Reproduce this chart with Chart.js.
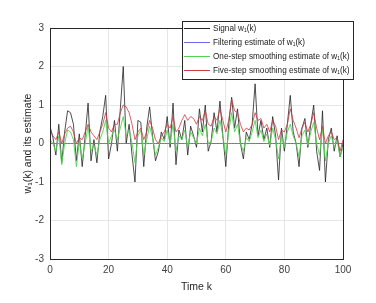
<!DOCTYPE html>
<html>
<head>
<meta charset="utf-8">
<script src="https://cdn.jsdelivr.net/npm/chart.js@4"></script>
<style>
  html, body { margin: 0; padding: 0; background: #fff; }
  canvas { display: block; }
</style>
</head>
<body>
<canvas id="chart" width="376" height="303"></canvas>
<script>
// Data
const timeK = Array.from({ length: 101 }, (_, i) => i);

const signalW1 = [
  0.45, 0.15, -0.3, 0.5, -0.5, 0.3, 0.85, 0.8, 0.5, -0.45,
  0.25, -0.6, 0.2, 1.05, -0.45, 0.1, -0.5, 0.3, 0.7, 1.25,
  -0.4, 0.0, 0.6, -0.2, 0.9, 2.0, 0.0, 0.5, -0.3, -1.0,
  0.6, 0.55, -0.6, 0.4, 0.95, 0.2, -0.45, -0.2, 0.3, 0.1,
  0.7, -0.1, 1.05, -0.55, 0.35, 0.1, 0.6, -0.3, 0.45, 0.2,
  -0.1, 0.9, 0.3, 1.0, -0.2, 0.05, 0.8, 0.3, 1.1, 0.2,
  -0.6, 0.5, 1.2, 0.4, 0.9, 0.0, -0.4, 0.3, 0.1, 0.5,
  1.55, 0.2, 0.6, 0.1, 0.4, -0.1, 0.7, 0.2, -0.95, 0.4,
  -0.2, 0.5, 1.25, 0.3, 0.0, -0.6, 0.4, 0.65, -0.1, 0.5,
  1.0, -0.2, -0.7, 0.85, -1.0, 0.1, 0.4, -0.2, 0.2, -0.35,
  0.0
];

const filteringEst = [
  0, 0, 0, 0, 0, 0, 0, 0, 0, 0,
  0, 0, 0, 0, 0, 0, 0, 0, 0, 0,
  0, 0, 0, 0, 0, 0, 0, 0, 0, 0,
  0, 0, 0, 0, 0, 0, 0, 0, 0, 0,
  0, 0, 0, 0, 0, 0, 0, 0, 0, 0,
  0, 0, 0, 0, 0, 0, 0, 0, 0, 0,
  0, 0, 0, 0, 0, 0, 0, 0, 0, 0,
  0, 0, 0, 0, 0, 0, 0, 0, 0, 0,
  0, 0, 0, 0, 0, 0, 0, 0, 0, 0,
  0, 0, 0, 0, 0, 0, 0, 0, 0, 0,
  0
];

const oneStepEst = [
  0.1, 0.0, -0.2, 0.2, -0.55, 0.0, 0.35, 0.3, 0.1, -0.6,
  0.05, -0.4, 0.0, 0.45, -0.2, -0.05, -0.3, 0.1, 0.3, 0.6,
  0.0, 0.2, 0.35, 0.1, 0.4, 0.7, 0.2, 0.35, 0.0, -0.5,
  0.2, 0.35, -0.3, 0.1, 0.45, 0.15, -0.3, -0.1, 0.15, 0.05,
  0.35, 0.0, 0.5, -0.2, 0.2, 0.1, 0.35, -0.1, 0.3, 0.15,
  0.0, 0.4, 0.2, 0.5, 0.0, 0.05, 0.4, 0.25, 0.6, 0.2,
  -0.3, 0.3, 0.8, 0.3, 0.5, 0.0, -0.2, 0.15, 0.05, 0.3,
  0.6, 0.15, 0.35, 0.05, 0.25, -0.05, 0.4, 0.1, -0.4, 0.2,
  -0.1, 0.3, 0.5, 0.2, 0.0, -0.35, 0.2, 0.35, -0.05, 0.3,
  0.55, 0.0, -0.3, 0.4, -0.45, 0.0, 0.2, -0.1, 0.1, -0.35,
  -0.1
];

const fiveStepEst = [
  0.35, 0.2, 0.1, 0.3, 0.0, 0.25, 0.4, 0.45, 0.3, 0.0,
  0.15, 0.1, 0.3, 0.5, 0.3, 0.2, 0.1, 0.3, 0.5, 0.8,
  0.4, 0.3, 0.5, 0.5, 0.8, 1.0, 0.95, 0.8, 0.5, 0.1,
  0.3, 0.4, 0.1, 0.3, 0.6, 0.4, 0.1, 0.0, 0.2, 0.3,
  0.5, 0.4, 0.7, 0.3, 0.4, 0.6, 0.75, 0.6, 0.7, 0.65,
  0.5, 0.7, 0.6, 0.85, 0.5, 0.45, 0.7, 0.6, 0.9, 0.6,
  0.3, 0.6, 1.15, 0.85, 0.8, 0.5, 0.3, 0.4, 0.35, 0.5,
  0.8, 0.6, 0.65, 0.4, 0.5, 0.3, 0.6, 0.45, 0.1, 0.35,
  0.3, 0.5, 0.9, 0.6, 0.4, 0.15, 0.4, 0.55, 0.3, 0.5,
  0.8, 0.4, 0.1, 0.45, 0.0, 0.2, 0.3, 0.1, 0.15, -0.2,
  0.1
];

const xTicks = [0, 20, 40, 60, 80, 100];
const yTicks = [-3, -2, -1, 0, 1, 2, 3];

const FONT = "'Liberation Sans', Arial, sans-serif";

function toPoints(values) {
  return values.map((v, i) => ({ x: timeK[i], y: v }));
}

// Box around the plot area + legend drawn inside at the top right
const boxLegendPlugin = {
  id: 'boxLegend',
  afterDatasetsDraw(chart) {
    const { ctx, chartArea: a } = chart;
    ctx.save();
    ctx.strokeStyle = '#262626';
    ctx.lineWidth = 1;
    ctx.strokeRect(Math.round(a.left) + 0.5, Math.round(a.top) + 0.5,
                   Math.round(a.right - a.left), Math.round(a.bottom - a.top));

    // legend
    const lx = 182, ly = 21, lw = 171, lh = 58;
    ctx.fillStyle = '#fff';
    ctx.fillRect(lx, ly, lw, lh);
    ctx.strokeStyle = '#262626';
    ctx.strokeRect(lx + 0.5, ly + 0.5, lw, lh);
    ctx.font = '8.2px ' + FONT;
    ctx.textBaseline = 'middle';
    chart.data.datasets.forEach((ds, i) => {
      const y = Math.round(ly + 7 + i * 14) + 0.5;
      ctx.strokeStyle = ds.borderColor;
      ctx.lineWidth = 1;
      ctx.beginPath();
      ctx.moveTo(lx + 2, y);
      ctx.lineTo(lx + 28, y);
      ctx.stroke();
      ctx.fillStyle = '#1a1a1a';
      ctx.fillText(ds.label, lx + 31, y);
    });
    ctx.restore();
  }
};

const chart = new Chart(document.getElementById('chart'), {
  type: 'line',
  data: {
    datasets: [
      { label: 'Signal w\u2081(k)', data: toPoints(signalW1), borderColor: '#222222', borderWidth: 0.8, order: 4 },
      { label: 'Filtering estimate of w\u2081(k)', data: toPoints(filteringEst), borderColor: '#6a6af2', borderWidth: 1, order: 3 },
      { label: 'One-step smoothing estimate of w\u2081(k)', data: toPoints(oneStepEst), borderColor: '#52d452', borderWidth: 0.9, order: 2 },
      { label: 'Five-step smoothing estimate of w\u2081(k)', data: toPoints(fiveStepEst), borderColor: '#cc3a40', borderWidth: 0.8, order: 1 },
    ],
  },
  options: {
    responsive: false,
    animation: false,
    elements: { point: { radius: 0 }, line: { tension: 0 } },
    layout: { padding: { top: 28, right: 33, left: 22, bottom: 10 } },
    plugins: { legend: { display: false }, tooltip: { enabled: false } },
    scales: {
      x: {
        type: 'linear',
        min: 0, max: 100,
        afterFit: (s) => { s.height = 34; },
        afterBuildTicks: (s) => { s.ticks = xTicks.map(v => ({ value: v })); },
        grid: { color: '#e6e6e6', drawTicks: false },
        border: { display: false },
        ticks: { padding: 5, color: '#404040', font: { family: FONT, size: 10 }, maxRotation: 0 },
        title: { display: true, text: 'Time k', color: '#262626', padding: { top: 1, bottom: 0 }, font: { family: FONT, size: 10.5 } },
      },
      y: {
        min: -3, max: 3,
        afterFit: (s) => { s.width = 28; },
        afterBuildTicks: (s) => { s.ticks = yTicks.map(v => ({ value: v })); },
        grid: { color: '#e6e6e6', drawTicks: false },
        border: { display: false },
        ticks: { padding: 6, color: '#404040', font: { family: FONT, size: 10 } },
        title: { display: true, text: 'w\u2081(k) and its estimate', color: '#262626', padding: { top: 0, bottom: 0 }, font: { family: FONT, size: 10.5 } },
      },
    },
  },
  plugins: [boxLegendPlugin],
});
</script>
</body>
</html>
